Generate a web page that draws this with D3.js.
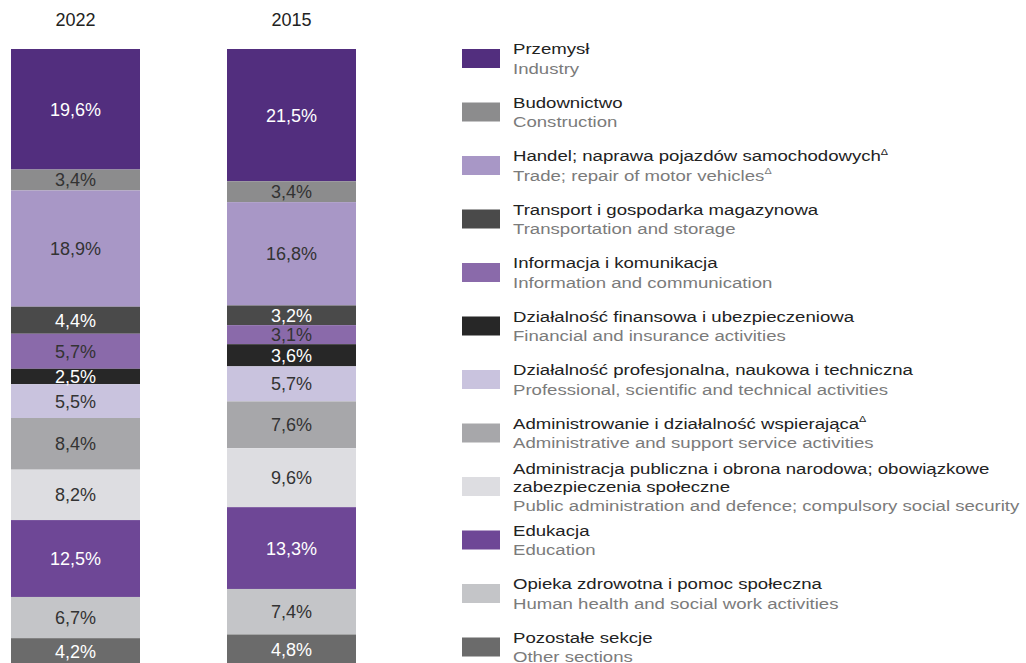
<!DOCTYPE html>
<html>
<head>
<meta charset="utf-8">
<title>Struktura</title>
<script src="https://d3js.org/d3.v7.min.js"></script>
<style>
  body { margin: 0; background: #fff; }
  text { font-family: "Liberation Sans", Arial, sans-serif; }
</style>
</head>
<body>
<div id="chart"></div>
<script>
// data
var years = ["2022", "2015"];
var namesPl = [
  "Przemysł",
  "Budownictwo",
  "Handel; naprawa pojazdów samochodowych\u0394",
  "Transport i gospodarka magazynowa",
  "Informacja i komunikacja",
  "Działalność finansowa i ubezpieczeniowa",
  "Działalność profesjonalna, naukowa i techniczna",
  "Administrowanie i działalność wspierająca\u0394",
  "Administracja publiczna i obrona narodowa; obowiązkowe|zabezpieczenia społeczne",
  "Edukacja",
  "Opieka zdrowotna i pomoc społeczna",
  "Pozostałe sekcje"
];
var namesEn = [
  "Industry",
  "Construction",
  "Trade; repair of motor vehicles\u0394",
  "Transportation and storage",
  "Information and communication",
  "Financial and insurance activities",
  "Professional, scientific and technical activities",
  "Administrative and support service activities",
  "Public administration and defence; compulsory social security",
  "Education",
  "Human health and social work activities",
  "Other sections"
];
var values2022 = [19.6, 3.4, 18.9, 4.4, 5.7, 2.5, 5.5, 8.4, 8.2, 12.5, 6.7, 4.2];
var values2015 = [21.5, 3.4, 16.8, 3.2, 3.1, 3.6, 5.7, 7.6, 9.6, 13.3, 7.4, 4.8];

var colors = ["#522e7e", "#8c8c8d", "#a897c6", "#4a4a4a", "#8a6aaa", "#272727",
              "#c9c3de", "#a7a7aa", "#dddde1", "#6e4796", "#c4c5c8", "#6b6b6b"];
var labelColors = ["#fff", "#333", "#333", "#fff", "#333", "#fff",
                   "#333", "#333", "#333", "#fff", "#333", "#fff"];

var svg = d3.select("#chart").append("svg")
    .attr("width", 1026)
    .attr("height", 663);

var x = d3.scalePoint().domain(years).range([75.5, 291.5]),
    y = d3.scaleLinear().domain([0, 100]).range([49, 664]),
    barW = 129;

var series = { "2022": values2022, "2015": values2015 };

years.forEach(function(yr) {
  var vals = series[yr];
  var cum = d3.cumsum(vals);
  var segs = vals.map(function(v, i) {
    return { v: v, i: i, y0: cum[i] - v, y1: cum[i] };
  });
  var g = svg.append("g");

  g.append("text")
    .attr("x", x(yr))
    .attr("y", 26)
    .attr("text-anchor", "middle")
    .style("font-size", "18px")
    .style("fill", "#222")
    .text(yr);

  g.selectAll("rect").data(segs).enter().append("rect")
    .attr("x", x(yr) - barW / 2)
    .attr("width", barW)
    .attr("y", d => y(d.y0))
    .attr("height", d => y(d.y1) - y(d.y0))
    .attr("fill", d => colors[d.i]);

  g.selectAll("text.lbl").data(segs).enter().append("text")
    .attr("class", "lbl")
    .attr("x", x(yr))
    .attr("y", d => (y(d.y0) + y(d.y1)) / 2 + 6.5)
    .attr("text-anchor", "middle")
    .style("font-size", "18px")
    .style("fill", d => labelColors[d.i])
    .text(d => d3.format(".1f")(d.v).replace(".", ",") + "%");
});

// legend
var legend = svg.append("g");
namesPl.forEach(function(name, i) {
  var plLines = name.split("|");
  var nLines = plLines.length + 1;
  var cy = 58.5 + i * 53.5;
  var lh = nLines > 2 ? 18.5 : 19.5;
  var top = cy - (nLines - 1) * lh / 2;

  legend.append("rect")
    .attr("x", 462).attr("y", cy - 9.5)
    .attr("width", 38).attr("height", 19)
    .attr("fill", colors[i]);

  plLines.forEach(function(line, j) {
    addText(line, top + j * lh + 5.5, "#222");
  });
  addText(namesEn[i], top + plLines.length * lh + 5.5, "#7b7b7b");
});

function addText(str, baseY, fill) {
  // text in the reference is drawn slightly stretched sideways
  var t = legend.append("text")
    .attr("transform", "translate(513," + baseY + ") scale(1.2,1)")
    .style("font-size", "15.5px")
    .style("fill", fill);
  var parts = str.split("\u0394");
  t.append("tspan").text(parts[0]);
  if (parts.length > 1) {
    t.append("tspan").attr("dy", -6.5).style("font-size", "9px").text("\u0394");
  }
}
</script>
</body>
</html>
